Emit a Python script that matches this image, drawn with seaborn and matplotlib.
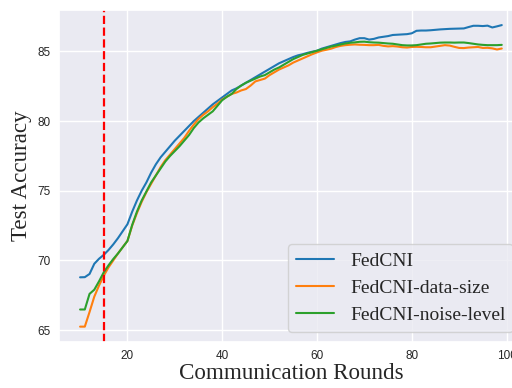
import numpy as np
import pandas as pd
import matplotlib
matplotlib.use("Agg")
import matplotlib.pyplot as plt
import seaborn as sns

rounds = list(range(10, 100))

fedcni = [68.79, 68.80, 69.03, 69.76, 70.12, 70.40, 70.75, 71.15, 71.6, 72.1,
          72.6, 73.5, 74.3, 75.0, 75.6, 76.3, 76.9, 77.4, 77.8, 78.2,
          78.6, 78.95, 79.3, 79.65, 80.0, 80.3, 80.6, 80.9, 81.2, 81.45,
          81.7, 81.95, 82.2, 82.35, 82.55, 82.75, 82.95, 83.15, 83.35, 83.55,
          83.75, 83.95, 84.15, 84.3, 84.45, 84.6, 84.72, 84.8, 84.9, 84.98,
          85.05, 85.2, 85.3, 85.4, 85.5, 85.6, 85.68, 85.72, 85.85, 85.95,
          85.95, 85.85, 85.9, 86.0, 86.05, 86.1, 86.18, 86.2, 86.22, 86.24,
          86.3, 86.48, 86.5, 86.5, 86.52, 86.55, 86.58, 86.6, 86.62, 86.63,
          86.64, 86.65, 86.75, 86.84, 86.84, 86.82, 86.85, 86.72, 86.8, 86.89]

fedcni_data_size = [65.25, 65.25, 66.3, 67.4, 68.2, 68.9, 69.5, 70.0, 70.5, 70.95,
                    71.4, 72.5, 73.4, 74.2, 74.9, 75.5, 76.1, 76.7, 77.2, 77.6,
                    78.0, 78.4, 78.8, 79.3, 79.75, 80.15, 80.45, 80.7, 81.0, 81.25,
                    81.55, 81.75, 81.95, 82.05, 82.2, 82.3, 82.55, 82.85, 82.95, 83.05,
                    83.3, 83.5, 83.7, 83.85, 84.0, 84.2, 84.35, 84.5, 84.65, 84.8,
                    84.93, 85.05, 85.12, 85.2, 85.32, 85.4, 85.45, 85.48, 85.5, 85.48,
                    85.47, 85.45, 85.45, 85.47, 85.4, 85.36, 85.38, 85.35, 85.3, 85.28,
                    85.32, 85.33, 85.32, 85.3, 85.3, 85.35, 85.4, 85.45, 85.42, 85.33,
                    85.25, 85.24, 85.28, 85.3, 85.32, 85.25, 85.26, 85.22, 85.14, 85.21]

fedcni_noise_level = [66.48, 66.48, 67.6, 67.9, 68.5, 69.15, 69.65, 70.1, 70.5, 70.95,
                      71.4, 72.55, 73.5, 74.3, 74.95, 75.6, 76.1, 76.6, 77.1, 77.5,
                      77.85, 78.2, 78.6, 79.0, 79.5, 79.9, 80.2, 80.45, 80.7, 81.1,
                      81.5, 81.75, 81.95, 82.3, 82.55, 82.75, 82.9, 83.05, 83.2, 83.3,
                      83.5, 83.7, 83.85, 84.05, 84.25, 84.45, 84.6, 84.75, 84.85, 84.95,
                      85.05, 85.15, 85.25, 85.35, 85.42, 85.5, 85.57, 85.62, 85.65, 85.69,
                      85.7, 85.66, 85.64, 85.63, 85.6, 85.57, 85.55, 85.5, 85.45, 85.43,
                      85.43, 85.45, 85.5, 85.55, 85.57, 85.6, 85.63, 85.64, 85.64, 85.63,
                      85.64, 85.64, 85.6, 85.55, 85.5, 85.47, 85.45, 85.45, 85.45, 85.47]

series_names = ["FedCNI", "FedCNI-data-size", "FedCNI-noise-level"]
threshold_round = 15
xticks = [20, 40, 60, 80, 100]
yticks = [65, 70, 75, 80, 85]

df = pd.DataFrame({
    "round": rounds * 3,
    "acc": fedcni + fedcni_data_size + fedcni_noise_level,
    "method": [series_names[0]] * len(rounds) + [series_names[1]] * len(rounds)
              + [series_names[2]] * len(rounds),
})

sns.set_theme(style="darkgrid")
fig = plt.figure(figsize=(5.12, 3.88), dpi=100)
ax = fig.add_axes([0.1152, 0.1193, 0.906, 0.8549])

sns.lineplot(data=df, x="round", y="acc", hue="method", ax=ax,
             palette=["#1f77b4", "#ff7f0e", "#2ca02c"], linewidth=1.5)
ax.axvline(threshold_round, color="red", linestyle="--", linewidth=1.6)

ax.set_xticks(xticks)
ax.set_yticks(yticks)
ax.tick_params(labelsize=8.5, colors=".15", length=0, pad=6)
for lab in ax.get_xticklabels() + ax.get_yticklabels():
    lab.set_family("Liberation Sans")

ax.set_xlabel("Communication Rounds", family="Liberation Serif", fontsize=16.6,
              color=".15", labelpad=1)
ax.set_ylabel("Test Accuracy", family="Liberation Serif", fontsize=16.6,
              color=".15", labelpad=4)

leg = ax.legend(loc="lower right", prop={"family": "Liberation Serif", "size": 14})
for line in leg.get_lines():
    line.set_linewidth(1.5)

fig.savefig("out.png", dpi=100)
